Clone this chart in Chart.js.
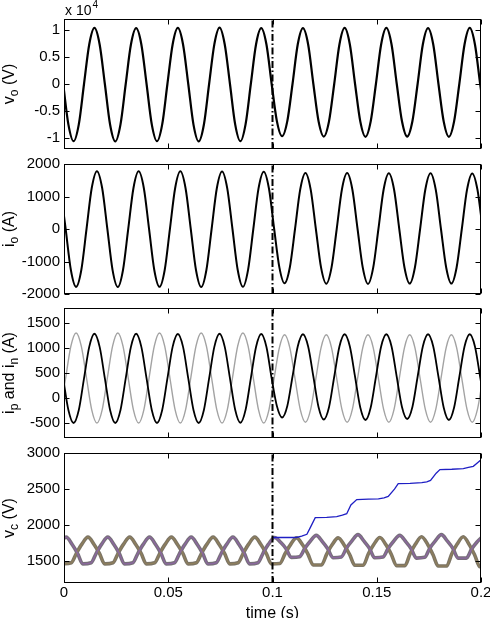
<!DOCTYPE html>
<html>
<head>
<meta charset="utf-8">
<script src="https://cdn.jsdelivr.net/npm/chart.js@4.4.1/dist/chart.umd.min.js"></script>
<style>
  html, body { margin: 0; padding: 0; background: #fff; }
  #wrap { position: relative; width: 490px; height: 618px; overflow: hidden; }
  canvas { position: absolute; left: 0; }
</style>
</head>
<body>
<div id="wrap">
  <canvas id="c1" width="490" height="157" style="top:0px"></canvas>
  <canvas id="c2" width="490" height="146" style="top:156px"></canvas>
  <canvas id="c3" width="490" height="146" style="top:300px"></canvas>
  <canvas id="c4" width="490" height="173" style="top:445px"></canvas>
</div>
<script>
// time axis
const xTicks = [0, 0.05, 0.1, 0.15, 0.2];
const tFault = 0.1;

// sample times (s)
const tV = [-0.0029, -0.0004,
  0.0021, 0.0046, 0.0071, 0.0096, 0.0121, 0.0146, 0.0171, 0.0196,
  0.0221, 0.0246, 0.0271, 0.0296, 0.0321, 0.0346, 0.0371, 0.0396,
  0.0421, 0.0446, 0.0471, 0.0496, 0.0521, 0.0546, 0.0571, 0.0596,
  0.0621, 0.0646, 0.0671, 0.0696, 0.0721, 0.0746, 0.0771, 0.0796,
  0.0821, 0.0846, 0.0871, 0.0896, 0.0921, 0.0946, 0.0971, 0.0996,
  0.1021, 0.1046, 0.1071, 0.1096, 0.1121, 0.1146, 0.1171, 0.1196,
  0.1221, 0.1246, 0.1271, 0.1296, 0.1321, 0.1346, 0.1371, 0.1396,
  0.1421, 0.1446, 0.1471, 0.1496, 0.1521, 0.1546, 0.1571, 0.1596,
  0.1621, 0.1646, 0.1671, 0.1696, 0.1721, 0.1746, 0.1771, 0.1796,
  0.1821, 0.1846, 0.1871, 0.1896, 0.1921, 0.1946, 0.1971, 0.1996,
  0.2021];
const tI = [-0.0017, 0.0008,
  0.0033, 0.0058, 0.0083, 0.0108, 0.0133, 0.0158, 0.0183, 0.0208,
  0.0233, 0.0258, 0.0283, 0.0308, 0.0333, 0.0358, 0.0383, 0.0408,
  0.0433, 0.0458, 0.0483, 0.0508, 0.0533, 0.0558, 0.0583, 0.0608,
  0.0633, 0.0658, 0.0683, 0.0708, 0.0733, 0.0758, 0.0783, 0.0808,
  0.0833, 0.0858, 0.0883, 0.0908, 0.0933, 0.0958, 0.0983, 0.1008,
  0.1033, 0.1058, 0.1083, 0.1108, 0.1133, 0.1158, 0.1183, 0.1208,
  0.1233, 0.1258, 0.1283, 0.1308, 0.1333, 0.1358, 0.1383, 0.1408,
  0.1433, 0.1458, 0.1483, 0.1508, 0.1533, 0.1558, 0.1583, 0.1608,
  0.1633, 0.1658, 0.1683, 0.1708, 0.1733, 0.1758, 0.1783, 0.1808,
  0.1833, 0.1858, 0.1883, 0.1908, 0.1933, 0.1958, 0.1983, 0.2008,
  0.2033];

// output voltage v_o (V)
const vO = [7300, 0,
  -7450, -10550, -7450, 0, 7300, 10350, 7300, 0,
  -7480, -10600, -7450, 0, 7280, 10300, 7300, 0,
  -7450, -10550, -7450, 0, 7300, 10350, 7300, 0,
  -7500, -10600, -7480, 0, 7320, 10400, 7300, 0,
  -7450, -10550, -7400, 0, 7300, 10300, 7280, 0,
  -6850, -9650, -6850, 0, 7280, 10300, 7300, 0,
  -6900, -9700, -6900, 0, 7300, 10350, 7300, 0,
  -6900, -9750, -6900, 0, 7300, 10350, 7300, 0,
  -6880, -9700, -6880, 0, 7280, 10300, 7280, 0,
  -6900, -9750, -6900, 0, 7300, 10350, 7300, 0,
  -6900];

// output current i_o (A), on tI
const iO = [1260, 0,
  -1260, -1780, -1260, 0, 1260, 1780, 1260, 0,
  -1265, -1785, -1260, 0, 1255, 1775, 1255, 0,
  -1260, -1780, -1260, 0, 1255, 1775, 1255, 0,
  -1260, -1785, -1260, 0, 1255, 1770, 1250, 0,
  -1255, -1780, -1250, 0, 1250, 1765, 1245, 0,
  -1180, -1670, -1185, 0, 1220, 1725, 1220, 0,
  -1190, -1685, -1190, 0, 1220, 1720, 1215, 0,
  -1190, -1690, -1190, 0, 1215, 1715, 1215, 0,
  -1185, -1680, -1185, 0, 1215, 1715, 1210, 0,
  -1185, -1680, -1185, 0, 1210, 1710, 1210, 0,
  -1185];

// upper arm current i_p (A), on tV
const iP = [1022, 392,
  -240, -500, -240, 392, 1022, 1285, 1022, 392,
  -240, -500, -240, 392, 1022, 1285, 1022, 392,
  -240, -500, -240, 392, 1022, 1280, 1022, 392,
  -240, -500, -240, 392, 1022, 1285, 1022, 392,
  -235, -495, -235, 392, 1020, 1280, 1020, 392,
  -160, -390, -160, 430, 1030, 1275, 1030, 430,
  -185, -430, -185, 425, 1030, 1275, 1030, 425,
  -190, -440, -190, 420, 1030, 1275, 1030, 420,
  -180, -420, -180, 425, 1030, 1275, 1030, 425,
  -190, -440, -190, 420, 1030, 1275, 1030, 420,
  -190];

// lower arm current i_n (A), on tI
const iN = [-236, 400,
  1036, 1300, 1036, 400, -236, -500, -236, 400,
  1036, 1300, 1036, 400, -236, -500, -236, 400,
  1036, 1300, 1036, 400, -236, -500, -236, 400,
  1036, 1300, 1036, 400, -236, -500, -236, 400,
  1036, 1300, 1036, 400, -236, -500, -236, 400,
  1009, 1265, 1009, 390, -229, -485, -229, 390,
  1009, 1265, 1009, 390, -229, -485, -229, 390,
  1009, 1265, 1009, 390, -229, -485, -229, 390,
  1009, 1265, 1009, 390, -229, -485, -229, 390,
  1009, 1265, 1009, 390, -229, -485, -229, 390,
  1009];

// capacitor voltages, group A (peaks near 0.001 + 0.02k)
const tA = [
  -0.007, -0.0045, -0.002, 0.001, 0.004, 0.0065, 0.009,
  0.013, 0.0155, 0.018, 0.021, 0.024, 0.0265, 0.029,
  0.033, 0.0355, 0.038, 0.041, 0.044, 0.0465, 0.049,
  0.053, 0.0555, 0.058, 0.061, 0.064, 0.0665, 0.069,
  0.073, 0.0755, 0.078, 0.081, 0.084, 0.0865, 0.089,
  0.093, 0.0955, 0.098, 0.101, 0.104, 0.1065, 0.109,
  0.113, 0.1155, 0.118, 0.121, 0.124, 0.1265, 0.129,
  0.133, 0.1355, 0.138, 0.141, 0.144, 0.1465, 0.149,
  0.153, 0.1555, 0.158, 0.161, 0.164, 0.1665, 0.169,
  0.173, 0.1755, 0.178, 0.181, 0.184, 0.1865, 0.189,
  0.193, 0.1955, 0.198, 0.201];
const vA = [
  1480, 1615, 1735, 1835, 1730, 1610, 1465,
  1480, 1615, 1735, 1835, 1730, 1610, 1465,
  1480, 1615, 1735, 1835, 1730, 1610, 1465,
  1480, 1615, 1735, 1835, 1730, 1610, 1465,
  1480, 1615, 1735, 1835, 1730, 1610, 1465,
  1480, 1615, 1735, 1830, 1760, 1675, 1555,
  1565, 1680, 1775, 1860, 1770, 1675, 1550,
  1560, 1685, 1780, 1870, 1775, 1680, 1550,
  1560, 1680, 1775, 1860, 1770, 1675, 1545,
  1555, 1685, 1780, 1870, 1775, 1680, 1545,
  1545, 1670, 1765, 1850];

// capacitor voltages, group B (peaks near 0.0115 + 0.02k)
const tB = [-0.0005,
  0.0035, 0.006, 0.0085, 0.0115, 0.0145, 0.017, 0.0195,
  0.0235, 0.026, 0.0285, 0.0315, 0.0345, 0.037, 0.0395,
  0.0435, 0.046, 0.0485, 0.0515, 0.0545, 0.057, 0.0595,
  0.0635, 0.066, 0.0685, 0.0715, 0.0745, 0.077, 0.0795,
  0.0835, 0.086, 0.0885, 0.0915, 0.0945, 0.097, 0.0995,
  0.1035, 0.106, 0.1085, 0.1115, 0.1145, 0.117, 0.1195,
  0.1235, 0.126, 0.1285, 0.1315, 0.1345, 0.137, 0.1395,
  0.1435, 0.146, 0.1485, 0.1515, 0.1545, 0.157, 0.1595,
  0.1635, 0.166, 0.1685, 0.1715, 0.1745, 0.177, 0.1795,
  0.1835, 0.186, 0.1885, 0.1915, 0.1945, 0.197, 0.1995,
  0.2035];
const vB = [1465,
  1480, 1615, 1735, 1835, 1730, 1610, 1465,
  1480, 1615, 1735, 1835, 1730, 1610, 1465,
  1480, 1615, 1735, 1835, 1730, 1610, 1465,
  1480, 1615, 1735, 1835, 1730, 1610, 1465,
  1480, 1615, 1735, 1835, 1730, 1610, 1465,
  1470, 1605, 1725, 1825, 1725, 1600, 1450,
  1450, 1600, 1725, 1825, 1720, 1595, 1445,
  1445, 1605, 1730, 1830, 1725, 1595, 1440,
  1440, 1605, 1735, 1840, 1730, 1590, 1435,
  1435, 1605, 1735, 1840, 1725, 1585, 1425,
  1425];

// the one capacitor that keeps charging after the fault
const tBlue = [0.1, 0.1115, 0.114, 0.1165, 0.118, 0.1205, 0.126, 0.1308, 0.1335, 0.1356,
  0.1376, 0.1404, 0.146, 0.1508, 0.1535, 0.1555, 0.1585, 0.1603, 0.166, 0.1716,
  0.174, 0.1758, 0.1785, 0.1803, 0.186, 0.1915, 0.194, 0.1963, 0.1985, 0.2];
const vBlue = [1830, 1830, 1850, 1875, 1960, 2105, 2110, 2120, 2140, 2160,
  2280, 2355, 2360, 2365, 2380, 2400, 2500, 2575, 2580, 2590,
  2600, 2620, 2720, 2770, 2775, 2785, 2800, 2815, 2870, 2905];

// y ticks per panel
const yTicks1 = [-10000, -5000, 0, 5000, 10000];
const yTicks2 = [-2000, -1000, 0, 1000, 2000];
const yTicks3 = [-500, 0, 500, 1000, 1500];
const yTicks4 = [1500, 2000, 2500, 3000];

const FONT = "'Liberation Sans', Arial, Helvetica, sans-serif";

function pts(xs, ys) {
  return xs.map((x, i) => ({ x: x, y: ys[i] }));
}

function sigLine(data, color, width, order) {
  return { data: data, borderColor: color, borderWidth: width, fill: false,
    cubicInterpolationMode: 'monotone', order: order };
}

function faultLine(yMin, yMax) {
  return { data: [{ x: tFault, y: yMin }, { x: tFault, y: yMax }], borderColor: '#000',
    borderWidth: 2, borderDash: [7, 2.5, 1.5, 2.5], tension: 0, fill: false, order: 0 };
}

// box, inward ticks and the axis labels (with subscripts)
const framePlugin = {
  id: 'frame',
  afterDraw(chart, args, opts) {
    const ctx = chart.ctx, a = chart.chartArea;
    const xs = chart.scales.x, ys = chart.scales.y;
    const L = Math.round(a.left) + 0.5, R = Math.round(a.right) - 0.5;
    const T = Math.round(a.top) + 0.5, B = Math.round(a.bottom) - 0.5;
    ctx.save();
    ctx.strokeStyle = '#000';
    ctx.lineWidth = 1;
    ctx.setLineDash([]);
    ctx.strokeRect(L, T, R - L, B - T);
    ctx.beginPath();
    opts.yTicks.forEach(v => {
      const p = Math.round(ys.getPixelForValue(v)) + 0.5;
      ctx.moveTo(L, p); ctx.lineTo(L + 5, p);
      ctx.moveTo(R, p); ctx.lineTo(R - 5, p);
    });
    xTicks.forEach(v => {
      const p = Math.round(xs.getPixelForValue(v)) + 0.5;
      ctx.moveTo(p, T); ctx.lineTo(p, T + 5);
      ctx.moveTo(p, B); ctx.lineTo(p, B - 5);
    });
    ctx.stroke();

    ctx.fillStyle = '#000';
    ctx.textAlign = 'left';
    ctx.textBaseline = 'alphabetic';
    const big = '16px ' + FONT, small = '12px ' + FONT;

    if (opts.exp) {
      ctx.font = '14px ' + FONT;
      ctx.fillText('x 10', 65, 15);
      const w = ctx.measureText('x 10').width;
      ctx.font = '10px ' + FONT;
      ctx.fillText('4', 65 + w + 1, 8);
    }
    if (opts.xTitle) {
      ctx.font = big;
      ctx.textAlign = 'center';
      ctx.fillText(opts.xTitle, (a.left + a.right) / 2, chart.height);
      ctx.textAlign = 'left';
    }

    ctx.translate(14, (a.top + a.bottom) / 2);
    ctx.rotate(-Math.PI / 2);
    let w = 0;
    opts.label.forEach(p => { ctx.font = p[1] ? small : big; w += ctx.measureText(p[0]).width; });
    let x = -w / 2;
    opts.label.forEach(p => {
      ctx.font = p[1] ? small : big;
      ctx.fillText(p[0], x, p[1] ? 4 : 0);
      x += ctx.measureText(p[0]).width;
    });
    ctx.restore();
  }
};

function makePanel(id, cfg) {
  return new Chart(document.getElementById(id), {
    type: 'line',
    data: { datasets: cfg.datasets },
    options: {
      responsive: false,
      animation: false,
      devicePixelRatio: 1,
      events: [],
      layout: { padding: { left: 0, right: 9, top: cfg.padTop, bottom: cfg.showX ? 0 : 8 } },
      elements: { point: { radius: 0 } },
      plugins: {
        legend: { display: false },
        tooltip: { enabled: false },
        frame: { yTicks: cfg.yTicks, label: cfg.label, exp: cfg.exp, xTitle: cfg.xTitle }
      },
      scales: {
        x: {
          type: 'linear', min: 0, max: 0.2, display: cfg.showX,
          grid: { display: false, drawTicks: false }, border: { display: false },
          afterBuildTicks: s => { s.ticks = xTicks.map(v => ({ value: v })); },
          ticks: { font: { family: FONT, size: 15 }, color: '#000', padding: 1,
            maxRotation: 0, autoSkip: false, callback: v => String(v) },
          afterFit: s => { s.height = cfg.showX ? 35 : 0; s.paddingLeft = 0; s.paddingRight = 0; }
        },
        y: {
          type: 'linear', min: cfg.yMin, max: cfg.yMax,
          grid: { display: false, drawTicks: false }, border: { display: false },
          afterBuildTicks: s => { s.ticks = cfg.yTicks.map(v => ({ value: v })); },
          ticks: { font: { family: FONT, size: 15 }, color: '#000', padding: 4,
            autoSkip: false, callback: cfg.fmt || (v => String(v)) },
          afterFit: s => { s.width = 64; s.paddingTop = 0; s.paddingBottom = 0; }
        }
      }
    },
    plugins: [framePlugin]
  });
}

makePanel('c1', {
  padTop: 19, showX: false, yMin: -12000, yMax: 12000, yTicks: yTicks1,
  fmt: v => String(v / 10000), exp: true,
  label: [['v', 0], ['o', 1], [' (V)', 0]],
  datasets: [sigLine(pts(tV, vO), '#000', 2.2, 1), faultLine(-12000, 12000)]
});

makePanel('c2', {
  padTop: 8, showX: false, yMin: -2000, yMax: 2000, yTicks: yTicks2,
  label: [['i', 0], ['o', 1], [' (A)', 0]],
  datasets: [sigLine(pts(tI, iO), '#000', 2, 1), faultLine(-2000, 2000)]
});

makePanel('c3', {
  padTop: 8, showX: false, yMin: -800, yMax: 1800, yTicks: yTicks3,
  label: [['i', 0], ['p', 1], [' and i', 0], ['n', 1], [' (A)', 0]],
  datasets: [
    sigLine(pts(tV, iP), '#000', 1.8, 1),
    sigLine(pts(tI, iN), '#a3a3a3', 1.4, 2),
    faultLine(-800, 1800)
  ]
});

makePanel('c4', {
  padTop: 8, showX: true, yMin: 1200, yMax: 3000, yTicks: yTicks4,
  label: [['v', 0], ['c', 1], [' (V)', 0]], xTitle: 'time (s)',
  datasets: [
    sigLine(pts(tA, vA), '#77707a', 3.6, 6),
    sigLine(pts(tB, vB), '#7c7566', 3.6, 6),
    sigLine(pts(tA, vA), '#8c67a0', 1.3, 4),
    sigLine(pts(tB, vB), '#8f7f5c', 1.3, 4),
    { data: pts(tBlue, vBlue), borderColor: '#1f1fc4', borderWidth: 1.3, tension: 0, fill: false, order: 1 },
    faultLine(1200, 3000)
  ]
});
</script>
</body>
</html>
